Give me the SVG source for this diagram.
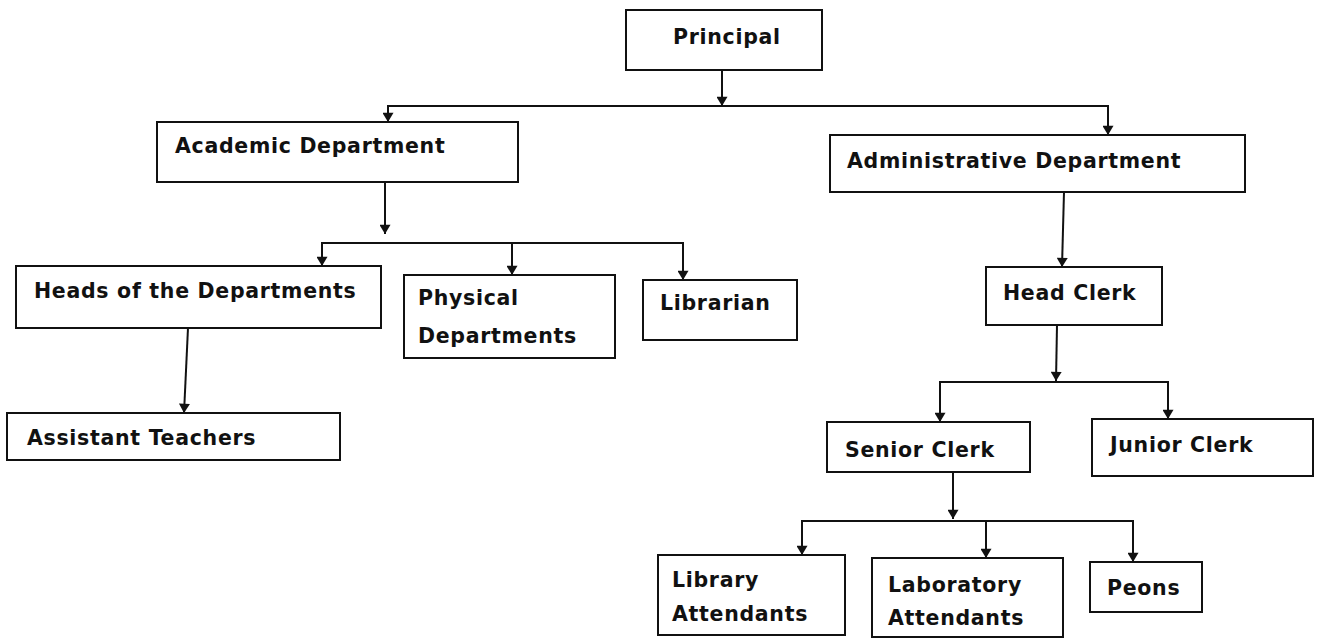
<svg xmlns="http://www.w3.org/2000/svg" width="1319" height="640" viewBox="0 0 1319 640">
<defs>
<style>
.box{fill:#fff;stroke:#111;stroke-width:2}
.lbl{font-family:"DejaVu Sans","Liberation Sans",Arial,sans-serif;font-weight:bold;font-size:20.5px;letter-spacing:0.7px;fill:#111}
.con{fill:none;stroke:#111;stroke-width:2}
</style>
<marker id="ah" viewBox="0 0 10 12" refX="10" refY="6" markerWidth="12" markerHeight="11" markerUnits="userSpaceOnUse" orient="auto">
<path d="M0,0 L10,6 L0,12 z" fill="#111"/>
</marker>
</defs>
<rect width="1319" height="640" fill="#fff"/>
<g id="connectors">
<line class="con" x1="722" y1="70" x2="722" y2="106" marker-end="url(#ah)"/>
<polyline class="con" points="388,122 388,106 1108,106 1108,135"/>
<line class="con" x1="388" y1="110" x2="388" y2="122" marker-end="url(#ah)"/>
<line class="con" x1="1108" y1="120" x2="1108" y2="135" marker-end="url(#ah)"/>
<line class="con" x1="385" y1="182" x2="385" y2="234" marker-end="url(#ah)"/>
<polyline class="con" points="322,266 322,243 683,243 683,280"/>
<line class="con" x1="322" y1="250" x2="322" y2="266" marker-end="url(#ah)"/>
<line class="con" x1="512" y1="243" x2="512" y2="275" marker-end="url(#ah)"/>
<line class="con" x1="683" y1="260" x2="683" y2="280" marker-end="url(#ah)"/>
<line class="con" x1="188" y1="328" x2="184" y2="413" marker-end="url(#ah)"/>
<line class="con" x1="1064" y1="192" x2="1062" y2="267" marker-end="url(#ah)"/>
<line class="con" x1="1057" y1="325" x2="1056" y2="381" marker-end="url(#ah)"/>
<polyline class="con" points="940,422 940,382 1168,382 1168,419"/>
<line class="con" x1="940" y1="400" x2="940" y2="422" marker-end="url(#ah)"/>
<line class="con" x1="1168" y1="400" x2="1168" y2="419" marker-end="url(#ah)"/>
<line class="con" x1="953" y1="472" x2="953" y2="519" marker-end="url(#ah)"/>
<polyline class="con" points="802,555 802,521 1133,521 1133,562"/>
<line class="con" x1="802" y1="535" x2="802" y2="555" marker-end="url(#ah)"/>
<line class="con" x1="986" y1="521" x2="986" y2="558" marker-end="url(#ah)"/>
<line class="con" x1="1133" y1="540" x2="1133" y2="562" marker-end="url(#ah)"/>
</g>
<g id="principal">
<rect class="box" x="626" y="10" width="196" height="60"/>
<text class="lbl" x="673" y="44">Principal</text>
</g>
<g id="academic">
<rect class="box" x="157" y="122" width="361" height="60"/>
<text class="lbl" x="175" y="153">Academic Department</text>
</g>
<g id="administrative">
<rect class="box" x="830" y="135" width="415" height="57"/>
<text class="lbl" x="847" y="168">Administrative Department</text>
</g>
<g id="heads">
<rect class="box" x="16" y="266" width="365" height="62"/>
<text class="lbl" x="34" y="298">Heads of the Departments</text>
</g>
<g id="physical">
<rect class="box" x="404" y="275" width="211" height="83"/>
<text class="lbl" x="418" y="305">Physical</text>
<text class="lbl" x="418" y="343">Departments</text>
</g>
<g id="librarian">
<rect class="box" x="643" y="280" width="154" height="60"/>
<text class="lbl" x="660" y="310">Librarian</text>
</g>
<g id="assistant">
<rect class="box" x="7" y="413" width="333" height="47"/>
<text class="lbl" x="27" y="445">Assistant Teachers</text>
</g>
<g id="headclerk">
<rect class="box" x="986" y="267" width="176" height="58"/>
<text class="lbl" x="1003" y="300">Head Clerk</text>
</g>
<g id="senior">
<rect class="box" x="827" y="422" width="203" height="50"/>
<text class="lbl" x="845" y="457">Senior Clerk</text>
</g>
<g id="junior">
<rect class="box" x="1092" y="419" width="221" height="57"/>
<text class="lbl" x="1110" y="452">Junior Clerk</text>
</g>
<g id="library">
<rect class="box" x="658" y="555" width="187" height="80"/>
<text class="lbl" x="672" y="587">Library</text>
<text class="lbl" x="672" y="621">Attendants</text>
</g>
<g id="laboratory">
<rect class="box" x="872" y="558" width="191" height="79"/>
<text class="lbl" x="888" y="592">Laboratory</text>
<text class="lbl" x="888" y="625">Attendants</text>
</g>
<g id="peons">
<rect class="box" x="1090" y="562" width="112" height="50"/>
<text class="lbl" x="1107" y="595">Peons</text>
</g>
</svg>
